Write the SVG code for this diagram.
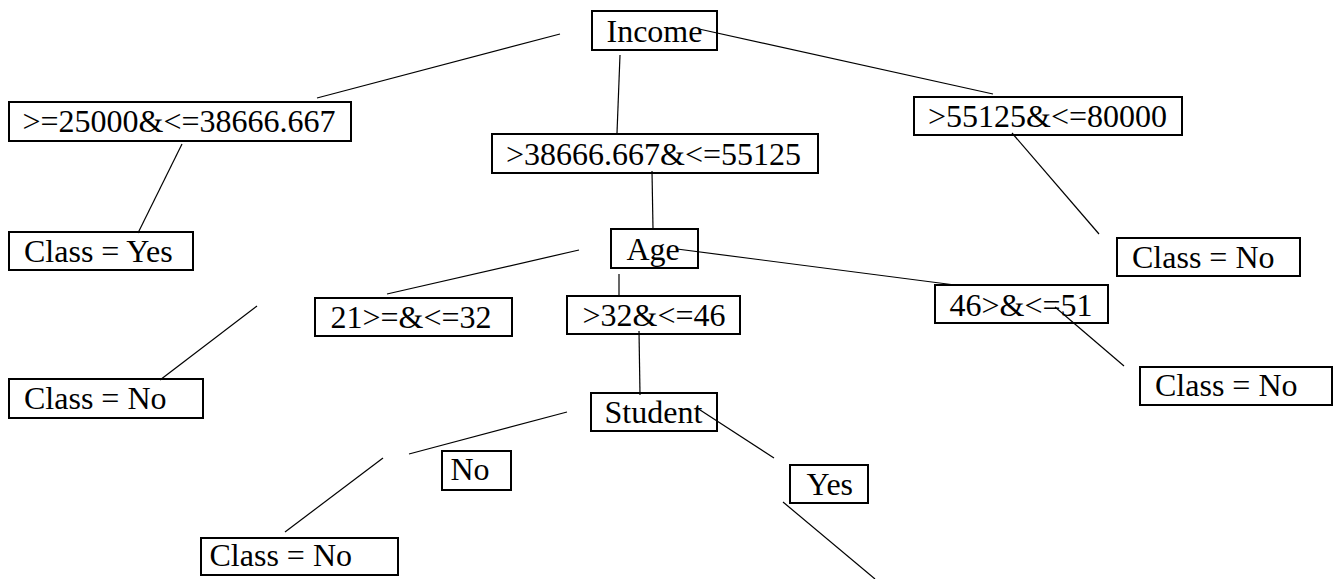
<svg xmlns="http://www.w3.org/2000/svg" width="1338" height="579" viewBox="0 0 1338 579">
  <style>
    .box { fill: #ffffff; stroke: #000000; stroke-width: 2; }
    .lbl { font-size: 32px; fill: #000000; }
    .edge { stroke: #000000; stroke-width: 1.2; fill: none; }
  </style>
  <rect width="1338" height="579" fill="#ffffff"/>

  <!-- decision tree nodes -->
  <g id="nodes" font-family="'Liberation Serif', 'Times New Roman', 'DejaVu Serif', serif">
  <g id="income"><rect class="box" x="592" y="11" width="125" height="39"/><text class="lbl" x="606.5" y="42">Income</text></g>
  <g id="income-low"><rect class="box" x="9" y="102" width="342" height="39"/><text class="lbl" x="22.5" y="131.5">&gt;=25000&amp;&lt;=38666.667</text></g>
  <g id="income-mid"><rect class="box" x="492" y="134" width="326" height="39"/><text class="lbl" x="506" y="164.5">&gt;38666.667&amp;&lt;=55125</text></g>
  <g id="income-high"><rect class="box" x="914" y="97" width="268" height="38"/><text class="lbl" x="928" y="126.5">&gt;55125&amp;&lt;=80000</text></g>
  <g id="class-yes"><rect class="box" x="9" y="232" width="184" height="38"/><text class="lbl" x="24" y="261.5">Class = Yes</text></g>
  <g id="class-no-income-high"><rect class="box" x="1117" y="238" width="183" height="38"/><text class="lbl" x="1132" y="267.5">Class = No</text></g>
  <g id="age"><rect class="box" x="611" y="229" width="87" height="39"/><text class="lbl" x="626.5" y="260">Age</text></g>
  <g id="age-low"><rect class="box" x="315" y="298" width="197" height="38"/><text class="lbl" x="330.5" y="327.5">21&gt;=&amp;&lt;=32</text></g>
  <g id="age-mid"><rect class="box" x="567" y="296" width="173" height="38"/><text class="lbl" x="582.5" y="326">&gt;32&amp;&lt;=46</text></g>
  <g id="age-high"><rect class="box" x="935" y="285" width="173" height="38"/><text class="lbl" x="949.5" y="315.5">46&gt;&amp;&lt;=51</text></g>
  <g id="class-no-age-low"><rect class="box" x="9" y="379" width="194" height="39"/><text class="lbl" x="24" y="408.5">Class = No</text></g>
  <g id="class-no-age-high"><rect class="box" x="1140" y="367" width="192" height="38"/><text class="lbl" x="1155" y="396">Class = No</text></g>
  <g id="student"><rect class="box" x="591" y="393" width="126" height="38"/><text class="lbl" x="604.5" y="423">Student</text></g>
  <g id="student-no"><rect class="box" x="442" y="451" width="69" height="39"/><text class="lbl" x="450.5" y="479.5">No</text></g>
  <g id="student-yes"><rect class="box" x="790" y="465" width="78" height="38"/><text class="lbl" x="806.5" y="495">Yes</text></g>
  <g id="class-no-student"><rect class="box" x="201" y="538" width="197" height="37"/><text class="lbl" x="209.5" y="566">Class = No</text></g>
  </g>

  <!-- branches -->
  <g id="connectors">
    <line class="edge" x1="560" y1="34" x2="317" y2="98"/>
    <line class="edge" x1="620" y1="55" x2="617" y2="133"/>
    <line class="edge" x1="699" y1="29" x2="993" y2="94"/>
    <line class="edge" x1="182" y1="144" x2="138" y2="233"/>
    <line class="edge" x1="1012" y1="133" x2="1099" y2="234"/>
    <line class="edge" x1="652" y1="171" x2="653" y2="229"/>
    <line class="edge" x1="579" y1="250" x2="387" y2="294"/>
    <line class="edge" x1="619" y1="274" x2="619" y2="296"/>
    <line class="edge" x1="677" y1="249" x2="955" y2="285"/>
    <line class="edge" x1="257" y1="306" x2="160" y2="380"/>
    <line class="edge" x1="1055" y1="307" x2="1124" y2="366"/>
    <line class="edge" x1="639" y1="331" x2="640" y2="395"/>
    <line class="edge" x1="567" y1="412" x2="409" y2="454"/>
    <line class="edge" x1="383" y1="458" x2="285" y2="532"/>
    <line class="edge" x1="697" y1="408" x2="774" y2="458"/>
    <line class="edge" x1="783" y1="502" x2="875" y2="579"/>
  </g>
</svg>
